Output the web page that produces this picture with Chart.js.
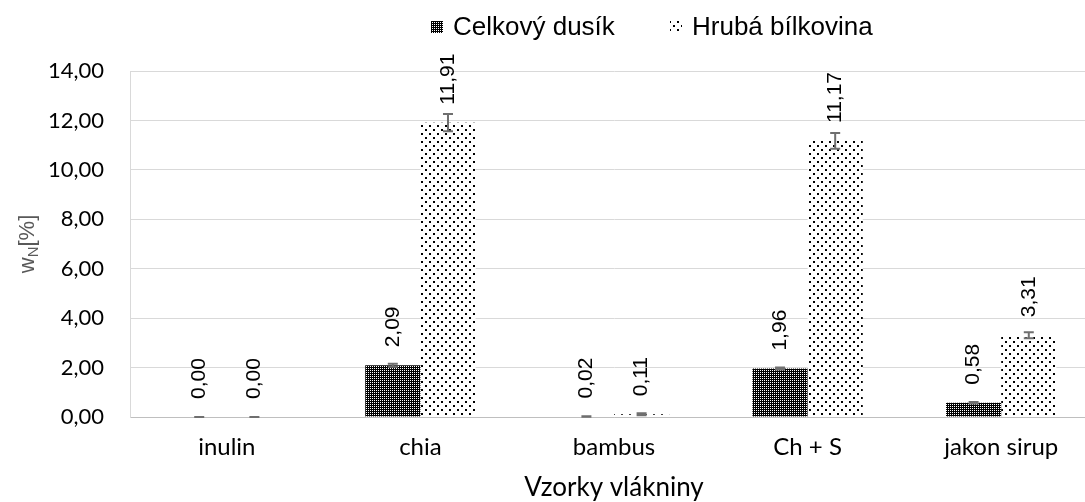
<!DOCTYPE html>
<html>
<head>
<meta charset="utf-8">
<script src="https://cdn.jsdelivr.net/npm/chart.js@4/dist/chart.umd.min.js"></script>
<style>
  html, body { margin:0; padding:0; background:#fff; overflow:hidden; }
  #wrap { width:1085px; height:502px; overflow:hidden; }
</style>
</head>
<body>
<div id="wrap"><canvas id="chart" width="1100" height="502"></canvas></div>
<script>
// samples and values
const categories = ['inulin', 'chia', 'bambus', 'Ch + S', 'jakon sirup'];
const seriesNames = ['Celkový dusík', 'Hrubá bílkovina'];
const nitrogen = [0.00, 2.09, 0.02, 1.96, 0.58];
const protein = [0.00, 11.91, 0.11, 11.17, 3.31];
const nitrogenErr = [0.00, 0.06, 0.01, 0.04, 0.03];
const proteinErr = [0.00, 0.35, 0.04, 0.32, 0.12];
const yTicks = [0, 2, 4, 6, 8, 10, 12, 14];

const fmt = v => v.toFixed(2).replace('.', ',');
const ARIAL = '"Liberation Sans", Arial, sans-serif';
const BODY = 'Lato, "Open Sans", sans-serif';

// pattern fills like the excel ones
function checkerPattern(){
  const c = document.createElement('canvas');
  c.width = 2; c.height = 2;
  const g = c.getContext('2d');
  g.fillStyle = '#000'; g.fillRect(0,0,2,2);
  g.fillStyle = '#fff'; g.fillRect(0,0,1,1);
  return g.createPattern(c, 'repeat');
}
function dotPattern(){
  const c = document.createElement('canvas');
  c.width = 8; c.height = 8;
  const g = c.getContext('2d');
  g.fillStyle = '#fff'; g.fillRect(0,0,8,8);
  g.fillStyle = '#000';
  g.fillRect(1,1,2,2); g.fillRect(5,5,2,2);
  return g.createPattern(c, 'repeat');
}
const fills = [checkerPattern(), dotPattern()];
const errors = [nitrogenErr, proteinErr];

// error bars, rotated value labels, legend and axis titles
const extras = {
  id: 'extras',
  afterDatasetsDraw(chart){
    const ctx = chart.ctx;
    const y = chart.scales.y;
    chart.data.datasets.forEach((ds, di) => {
      const meta = chart.getDatasetMeta(di);
      meta.data.forEach((bar, i) => {
        const v = ds.data[i], e = errors[di][i];
        const top = y.getPixelForValue(v + e), bot = y.getPixelForValue(Math.max(0, v - e));
        ctx.save();
        ctx.strokeStyle = '#6f6f6f';
        ctx.lineWidth = 2;
        ctx.beginPath();
        ctx.moveTo(bar.x, top); ctx.lineTo(bar.x, bot);
        ctx.moveTo(bar.x - 5, top); ctx.lineTo(bar.x + 5, top);
        ctx.moveTo(bar.x - 5, bot); ctx.lineTo(bar.x + 5, bot);
        ctx.stroke();
        ctx.restore();

        ctx.save();
        ctx.translate(bar.x, y.getPixelForValue(v) - 18);
        ctx.rotate(-Math.PI / 2);
        ctx.font = '21px ' + ARIAL;
        ctx.fillStyle = '#000';
        ctx.textAlign = 'left';
        ctx.textBaseline = 'middle';
        ctx.fillText(fmt(v), 0, 0);
        ctx.restore();
      });
    });
  },
  afterDraw(chart){
    const ctx = chart.ctx;
    const a = chart.chartArea;

    // legend
    ctx.save();
    ctx.font = '26px ' + ARIAL;
    ctx.textBaseline = 'middle';
    ctx.textAlign = 'left';
    const legendX = [431, 670];
    seriesNames.forEach((name, i) => {
      ctx.fillStyle = fills[i];
      ctx.fillRect(legendX[i], 21, 12, 12);
      ctx.fillStyle = '#000';
      ctx.fillText(name, legendX[i] + 22, 28);
    });
    ctx.restore();

    // y title: w with subscript N
    ctx.save();
    ctx.translate(26, (a.top + a.bottom) / 2);
    ctx.rotate(-Math.PI / 2);
    ctx.fillStyle = '#595959';
    ctx.textBaseline = 'alphabetic';
    ctx.font = '22px ' + ARIAL;
    const w1 = ctx.measureText('w').width;
    const w3 = ctx.measureText('[%]').width;
    ctx.font = '15px ' + ARIAL;
    const w2 = ctx.measureText('N').width;
    const x0 = -(w1 + w2 + w3) / 2;
    ctx.font = '22px ' + ARIAL;
    ctx.fillText('w', x0, 8);
    ctx.fillText('[%]', x0 + w1 + w2, 8);
    ctx.font = '15px ' + ARIAL;
    ctx.fillText('N', x0 + w1, 12);
    ctx.restore();

    // x title
    ctx.save();
    ctx.font = '26px ' + BODY;
    ctx.fillStyle = '#000';
    ctx.textAlign = 'center';
    ctx.textBaseline = 'middle';
    ctx.fillText('Vzorky vlákniny', (a.left + a.right) / 2, 488);
    ctx.restore();
  }
};

new Chart(document.getElementById('chart').getContext('2d'), {
  type: 'bar',
  data: {
    labels: categories,
    datasets: [
      { label: seriesNames[0], data: nitrogen, backgroundColor: fills[0], borderWidth: 0 },
      { label: seriesNames[1], data: protein, backgroundColor: fills[1], borderWidth: 0 }
    ]
  },
  options: {
    responsive: false,
    animation: false,
    layout: { padding: { left: 0, right: 2, top: 71, bottom: 0 } },
    datasets: { bar: { categoryPercentage: 0.57, barPercentage: 1.0 } },
    plugins: {
      legend: { display: false },
      tooltip: { enabled: false }
    },
    scales: {
      x: {
        grid: { display: false, drawTicks: false },
        border: { color: '#bfbfbf', width: 1 },
        ticks: { font: { family: BODY, size: 24 }, color: '#000', padding: 16 },
        afterFit(s){ s.height = 85; }
      },
      y: {
        min: 0, max: 14,
        afterBuildTicks(s){ s.ticks = yTicks.map(v => ({ value: v })); },
        grid: { color: '#d9d9d9', lineWidth: 1, drawTicks: false },
        border: { display: true, color: '#d9d9d9' },
        ticks: { font: { family: BODY, size: 22 }, color: '#000', padding: 26, callback: v => fmt(v) },
        afterFit(s){ s.width = 130; }
      }
    }
  },
  plugins: [extras]
});
</script>
</body>
</html>
